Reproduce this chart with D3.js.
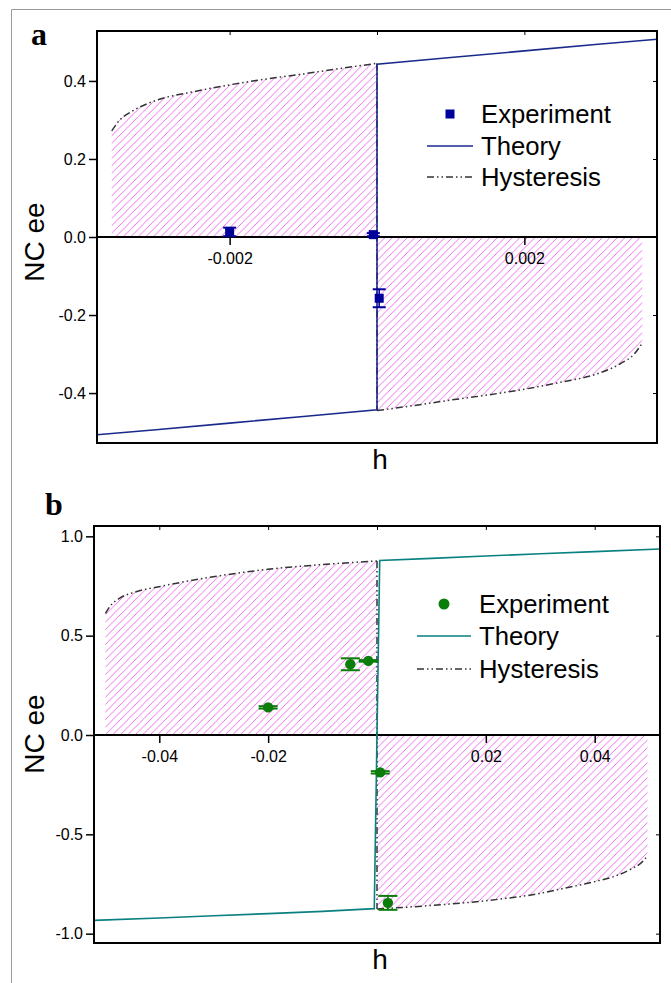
<!DOCTYPE html>
<html>
<head>
<meta charset="utf-8">
<script src="https://cdn.jsdelivr.net/npm/d3@7"></script>
<style>
  html, body { margin: 0; padding: 0; background: #fff; }
  svg { display: block; }
</style>
</head>
<body>
<script>
// ---------------- DATA ----------------
// Panel a
const aTheoryH  = [-0.0038, -0.003, -0.002, -0.001, 0, 0, 0.001, 0.002, 0.003, 0.0038];
const aTheoryNC = [-0.507, -0.494, -0.477, -0.460, -0.443, 0.443, 0.460, 0.477, 0.494, 0.507];
const aHystUpH  = [-0.0036, -0.0035, -0.0033, -0.003, -0.0025, -0.002, -0.0015, -0.001, -0.0005, 0];
const aHystUpNC = [0.272, 0.298, 0.325, 0.350, 0.372, 0.390, 0.405, 0.418, 0.432, 0.445];
const aHystLoH  = [0, 0.0005, 0.001, 0.0015, 0.002, 0.0025, 0.003, 0.0033, 0.0035, 0.0036];
const aHystLoNC = [-0.445, -0.432, -0.418, -0.405, -0.390, -0.372, -0.350, -0.325, -0.298, -0.272];
const aExpH   = [-0.002, -0.00005, 0.00003];
const aExpNC  = [0.013, 0.006, -0.157];
const aExpErr = [0.011, 0.004, 0.023];
const aXTicks = [-0.002, 0.002];
const aYTicks = [-0.4, -0.2, 0.0, 0.2, 0.4];
const aTopTicks = [-0.002, 0, 0.002];

// Panel b
const bTheoryH  = [-0.052, -0.04, -0.03, -0.02, -0.01, -0.0005, 0.0005, 0.01, 0.02, 0.03, 0.04, 0.052];
const bTheoryNC = [-0.933, -0.921, -0.910, -0.899, -0.888, -0.874, 0.878, 0.889, 0.901, 0.912, 0.923, 0.936];
const bHystUpH  = [-0.0499, -0.049, -0.0472, -0.0444, -0.0398, -0.0324, -0.0201, -0.0085, 0];
const bHystUpNC = [0.612, 0.650, 0.690, 0.720, 0.748, 0.786, 0.834, 0.861, 0.876];
const bHystLoH  = [0, 0.01, 0.02, 0.03, 0.0343, 0.04, 0.044, 0.0466, 0.0487, 0.0497];
const bHystLoNC = [-0.876, -0.858, -0.834, -0.797, -0.772, -0.738, -0.708, -0.676, -0.640, -0.609];
const bExpH   = [-0.02, -0.0049, -0.0016, 0.0006, 0.002];
const bExpNC  = [0.139, 0.356, 0.373, -0.188, -0.845];
const bExpErr = [0.006, 0.030, 0.004, 0.006, 0.035];
const bXTicks = [-0.04, -0.02, 0.02, 0.04];
const bYTicks = [-1.0, -0.5, 0.0, 0.5, 1.0];
const bTopTicks = [-0.04, -0.02, 0, 0.02, 0.04];

const legendLabels = ["Experiment", "Theory", "Hysteresis"];

// ---------------- DRAW ----------------
const W = 671, H = 983;
const SANS = "'Liberation Sans', Arial, sans-serif";
const svg = d3.select("body").append("svg").attr("width", W).attr("height", H);

const defs = svg.append("defs");
const pat = defs.append("pattern")
  .attr("id", "hatch").attr("patternUnits", "userSpaceOnUse")
  .attr("width", 7.5).attr("height", 7.5);
pat.append("path")
  .attr("d", "M0,7.5 L7.5,0 M-1,1 L1,-1 M6.5,8.5 L8.5,6.5")
  .attr("stroke", "#ee5cee").attr("stroke-width", 0.9).attr("fill", "none");

// outer grey border
svg.append("line").attr("x1", 11.5).attr("x2", W).attr("y1", 9.5).attr("y2", 9.5)
  .attr("stroke", "#9a9a9a").attr("stroke-width", 1);
svg.append("line").attr("x1", 11.5).attr("x2", 11.5).attr("y1", 9.5).attr("y2", H)
  .attr("stroke", "#9a9a9a").attr("stroke-width", 1);

const dashHyst = "7,3,1.5,3,1.5,3";

function panel(cfg) {
  const x = d3.scaleLinear().domain(cfg.xDomain).range([cfg.left, cfg.right]);
  const y = d3.scaleLinear().domain(cfg.yDomain).range([cfg.bottom, cfg.top]);
  const g = svg.append("g");

  const zip = (hs, ns) => hs.map((h, i) => [h, ns[i]]);
  const up = zip(cfg.hystUpH, cfg.hystUpNC);
  const lo = zip(cfg.hystLoH, cfg.hystLoNC);

  const area = d3.area().curve(d3.curveMonotoneX).x(d => x(d[0])).y0(y(0)).y1(d => y(d[1]));
  g.append("path").attr("d", area(up)).attr("fill", "url(#hatch)");
  g.append("path").attr("d", area(lo)).attr("fill", "url(#hatch)");

  // x axis at y = 0
  const xAxis = d3.axisBottom(x).tickValues(cfg.xTicks).tickSize(8).tickPadding(8)
    .tickFormat(d => d.toFixed(cfg.xDec));
  const xa = g.append("g").attr("transform", `translate(0,${y(0)})`).call(xAxis);
  xa.select(".domain").remove();
  xa.selectAll(".tick line").attr("stroke", "#000").attr("stroke-width", 1.5);
  xa.selectAll("text").style("font-size", "16px").style("font-family", SANS).attr("fill", "#000");
  g.append("line").attr("x1", cfg.left).attr("x2", cfg.right).attr("y1", y(0)).attr("y2", y(0))
    .attr("stroke", "#000").attr("stroke-width", 2);

  // y axis
  const yAxis = d3.axisLeft(y).tickValues(cfg.yTicks).tickSize(8).tickPadding(3)
    .tickFormat(d => d.toFixed(1));
  const ya = g.append("g").attr("transform", `translate(${cfg.left},0)`).call(yAxis);
  ya.select(".domain").remove();
  ya.selectAll(".tick line").attr("stroke", "#000").attr("stroke-width", 1.5);
  ya.selectAll("text").style("font-size", "16px").style("font-family", SANS).attr("fill", "#000");

  // top / right minor inward ticks
  const ta = g.append("g").attr("transform", `translate(0,${cfg.top})`)
    .call(d3.axisBottom(x).tickValues(cfg.topTicks).tickSize(4).tickFormat(""));
  ta.select(".domain").remove();
  ta.selectAll(".tick line").attr("stroke", "#000").attr("stroke-width", 1);
  const ra = g.append("g").attr("transform", `translate(${cfg.right},0)`)
    .call(d3.axisLeft(y).tickValues(cfg.yTicks).tickSize(4).tickFormat(""));
  ra.select(".domain").remove();
  ra.selectAll(".tick line").attr("stroke", "#000").attr("stroke-width", 1);

  // hysteresis line
  const cline = d3.line().curve(d3.curveMonotoneX).x(d => x(d[0])).y(d => y(d[1]));
  const line = d3.line().x(d => x(d[0])).y(d => y(d[1]));
  const hstyle = p => p.attr("fill", "none").attr("stroke", "#333")
    .attr("stroke-width", 1.5).attr("stroke-dasharray", dashHyst);
  g.append("path").attr("d", cline(up)).call(hstyle);
  g.append("path").attr("d", line([up[up.length - 1], lo[0]])).call(hstyle);
  g.append("path").attr("d", cline(lo)).call(hstyle);

  // theory line
  g.append("path").attr("d", line(zip(cfg.theoryH, cfg.theoryNC))).attr("fill", "none")
    .attr("stroke", cfg.theoryColor).attr("stroke-width", 1.6);

  // experiment
  const pts = cfg.expH.map((h, i) => ({h, v: cfg.expNC[i], e: cfg.expErr[i]}));
  const eg = g.append("g");
  pts.forEach(p => {
    const cx = x(p.h), y1 = y(p.v + p.e), y2 = y(p.v - p.e);
    eg.append("line").attr("x1", cx).attr("x2", cx).attr("y1", y1).attr("y2", y2)
      .attr("stroke", cfg.expColor).attr("stroke-width", 1.5);
    [y1, y2].forEach(yy => eg.append("line").attr("x1", cx - cfg.cap).attr("x2", cx + cfg.cap)
      .attr("y1", yy).attr("y2", yy).attr("stroke", cfg.expColor).attr("stroke-width", 2));
    if (cfg.marker === "square") {
      eg.append("rect").attr("x", cx - 4.5).attr("y", y(p.v) - 4.5).attr("width", 9).attr("height", 9)
        .attr("fill", cfg.expColor);
    } else {
      eg.append("circle").attr("cx", cx).attr("cy", y(p.v)).attr("r", 5.2).attr("fill", cfg.expColor);
    }
  });

  // frame
  g.append("rect").attr("x", cfg.left).attr("y", cfg.top)
    .attr("width", cfg.right - cfg.left).attr("height", cfg.bottom - cfg.top)
    .attr("fill", "none").attr("stroke", "#000").attr("stroke-width", 2);

  // legend
  const L = cfg.legend;
  if (cfg.marker === "square") {
    g.append("rect").attr("x", L.mx - 4.5).attr("y", L.y0 - 4.5).attr("width", 9).attr("height", 9).attr("fill", cfg.expColor);
  } else {
    g.append("circle").attr("cx", L.mx).attr("cy", L.y0).attr("r", 5.5).attr("fill", cfg.expColor);
  }
  g.append("line").attr("x1", L.lx1).attr("x2", L.lx2).attr("y1", L.y1).attr("y2", L.y1)
    .attr("stroke", cfg.theoryColor).attr("stroke-width", 1.6);
  g.append("line").attr("x1", L.lx1).attr("x2", L.lx2).attr("y1", L.y2).attr("y2", L.y2)
    .attr("stroke", "#333").attr("stroke-width", 1.5).attr("stroke-dasharray", dashHyst);
  [L.y0, L.y1, L.y2].forEach((yy, i) => {
    g.append("text").attr("x", L.tx).attr("y", yy + 8.5)
      .style("font-family", SANS).style("font-size", "25.7px").text(legendLabels[i]);
  });

  // axis titles
  g.append("text").attr("x", 380).attr("y", cfg.hBase).attr("text-anchor", "middle")
    .style("font-family", SANS).style("font-size", "28px").text("h");
  g.append("text").attr("transform", `translate(${cfg.ncX},${cfg.ncY}) rotate(-90)`)
    .attr("text-anchor", "middle").style("font-family", SANS).style("font-size", "28px").text("NC ee");

  // panel letter
  g.append("text").attr("x", cfg.letterX).attr("y", cfg.letterY)
    .style("font-family", "'Liberation Serif', 'Times New Roman', serif").style("font-weight", "bold")
    .style("font-size", "32px").text(cfg.letter);
}

panel({
  left: 97, right: 657, top: 31, bottom: 443,
  xDomain: [-0.0038, 0.0038], yDomain: [-0.528, 0.528],
  theoryH: aTheoryH, theoryNC: aTheoryNC,
  hystUpH: aHystUpH, hystUpNC: aHystUpNC, hystLoH: aHystLoH, hystLoNC: aHystLoNC,
  expH: aExpH, expNC: aExpNC, expErr: aExpErr,
  xTicks: aXTicks, yTicks: aYTicks, topTicks: aTopTicks, xDec: 3,
  theoryColor: "#1a2a8c", expColor: "#00009a", marker: "square", cap: 6.5,
  legend: {mx: 450, y0: 114, y1: 146, y2: 177, lx1: 427, lx2: 473, tx: 481},
  hBase: 469, ncX: 44, ncY: 242,
  letter: "a", letterX: 31, letterY: 45
});

panel({
  left: 94, right: 660, top: 526, bottom: 943,
  xDomain: [-0.052, 0.052], yDomain: [-1.047, 1.052],
  theoryH: bTheoryH, theoryNC: bTheoryNC,
  hystUpH: bHystUpH, hystUpNC: bHystUpNC, hystLoH: bHystLoH, hystLoNC: bHystLoNC,
  expH: bExpH, expNC: bExpNC, expErr: bExpErr,
  xTicks: bXTicks, yTicks: bYTicks, topTicks: bTopTicks, xDec: 2,
  theoryColor: "#0a8080", expColor: "#0a7d0a", marker: "circle", cap: 9.5,
  legend: {mx: 444, y0: 604, y1: 636, y2: 669, lx1: 417, lx2: 471, tx: 479},
  hBase: 969, ncX: 43.5, ncY: 734,
  letter: "b", letterX: 45, letterY: 515
});
</script>
</body>
</html>
